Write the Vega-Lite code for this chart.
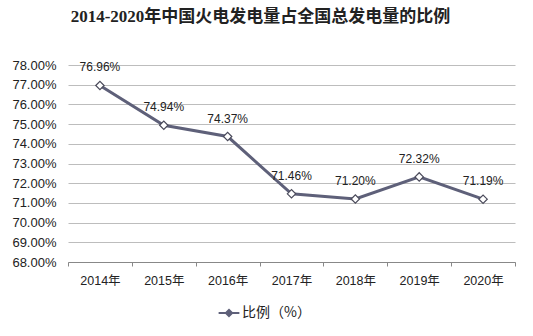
{
  "$schema": "https://vega.github.io/schema/vega-lite/v6.json",
  "autosize": {"type": "none"},
  "width": 447,
  "height": 197,
  "padding": {"left": 68, "top": 65, "right": 18, "bottom": 74},
  "background": "white",
  "title": {
    "text": "2014-2020年中国火电发电量占全国总发电量的比例",
    "font": "Liberation Serif, Noto Sans CJK SC",
    "fontSize": 17,
    "fontWeight": "bold",
    "color": "#222222",
    "anchor": "middle",
    "dx": -31,
    "offset": 33
  },
  "data": {
    "values": [
      {"year": "2014年", "value": 76.96, "label": "76.96%", "series": "比例（%）"},
      {"year": "2015年", "value": 74.94, "label": "74.94%", "series": "比例（%）"},
      {"year": "2016年", "value": 74.37, "label": "74.37%", "series": "比例（%）"},
      {"year": "2017年", "value": 71.46, "label": "71.46%", "series": "比例（%）"},
      {"year": "2018年", "value": 71.20, "label": "71.20%", "series": "比例（%）"},
      {"year": "2019年", "value": 72.32, "label": "72.32%", "series": "比例（%）"},
      {"year": "2020年", "value": 71.19, "label": "71.19%", "series": "比例（%）"}
    ]
  },
  "config": {
    "view": {"stroke": null},
    "font": "Liberation Sans, Noto Sans CJK SC"
  },
  "encoding": {
    "x": {
      "field": "year",
      "type": "ordinal",
      "bandPosition": 0.5,
      "scale": {"type": "band", "paddingInner": 0, "paddingOuter": 0},
      "axis": {
        "title": null,
        "labelAngle": 0,
        "labelFontSize": 12.5,
        "labelColor": "#222222",
        "labelPadding": 8,
        "tickBand": "extent",
        "ticks": true,
        "tickSize": 4,
        "tickColor": "#888888",
        "domainColor": "#888888",
        "grid": false
      }
    },
    "y": {
      "field": "value",
      "type": "quantitative",
      "scale": {"domain": [68, 78], "nice": false, "zero": false},
      "axis": {
        "title": null,
        "values": [68, 69, 70, 71, 72, 73, 74, 75, 76, 77, 78],
        "labelExpr": "format(datum.value, '.2f') + '%'",
        "labelOverlap": false,
        "labelFlush": false,
        "labelFontSize": 13,
        "labelColor": "#222222",
        "labelPadding": 12,
        "domain": false,
        "ticks": false,
        "grid": true,
        "gridColor": "#bdbdbd",
        "gridWidth": 1
      }
    }
  },
  "layer": [
    {
      "mark": {"type": "line", "stroke": "#5e6079", "strokeWidth": 3},
      "encoding": {}
    },
    {
      "mark": {
        "type": "point",
        "shape": "diamond",
        "size": 70,
        "filled": true,
        "fill": "white",
        "stroke": "#4a4a5a",
        "strokeWidth": 1.2,
        "opacity": 1
      },
      "encoding": {
        "color": {
          "field": "series",
          "type": "nominal",
          "scale": {"range": ["#5e6079"]},
          "legend": {
            "title": null,
            "orient": "none",
            "legendX": 152,
            "legendY": 239,
            "symbolType": "M-1.4,0L-0.4,0M0.4,0L1.4,0M0,-0.4L0.4,0L0,0.4L-0.4,0Z",
            "symbolSize": 220,
            "symbolFillColor": "white",
            "symbolStrokeColor": "#5e6079",
            "symbolStrokeWidth": 2.2,
            "labelFontSize": 14,
            "labelColor": "#222222",
            "labelFont": "Noto Sans CJK SC"
          }
        }
      }
    },
    {
      "mark": {
        "type": "text",
        "dy": -18,
        "fontSize": 12,
        "color": "#222222"
      },
      "encoding": {
        "text": {"field": "label", "type": "nominal"}
      }
    }
  ]
}
